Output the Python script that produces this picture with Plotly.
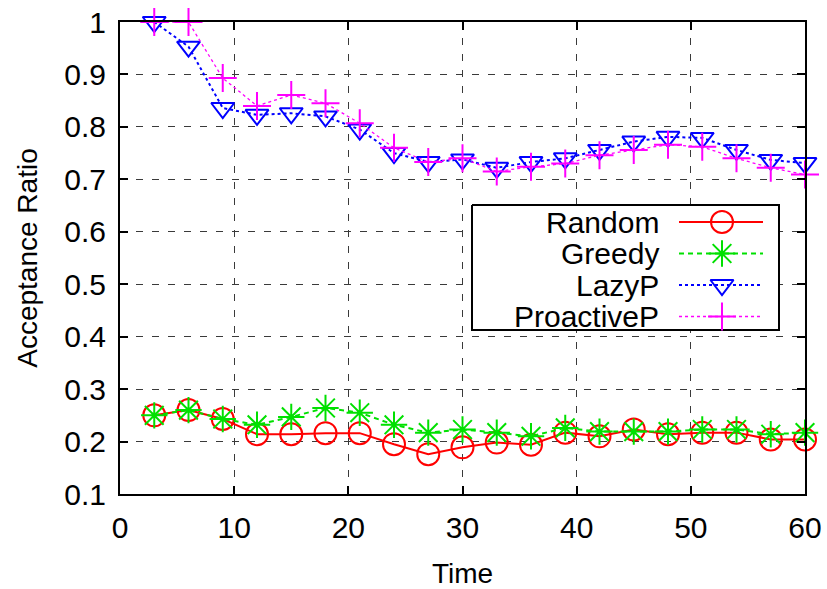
import plotly.graph_objects as go

time = [3, 6, 9, 12, 15, 18, 21, 24, 27, 30, 33, 36, 39, 42, 45, 48, 51, 54, 57, 60]
random_ratio = [0.25, 0.26, 0.243, 0.214, 0.214, 0.216, 0.216, 0.195, 0.176, 0.189,
                0.198, 0.194, 0.217, 0.21, 0.223, 0.214, 0.217, 0.217, 0.204, 0.204]
greedy_ratio = [0.25, 0.26, 0.243, 0.232, 0.247, 0.264, 0.255, 0.232, 0.217, 0.223,
                0.217, 0.21, 0.226, 0.219, 0.219, 0.219, 0.223, 0.223, 0.214, 0.217]
lazyp_ratio = [1.0, 0.953, 0.836, 0.823, 0.826, 0.82, 0.795, 0.75, 0.733, 0.738,
               0.722, 0.733, 0.74, 0.756, 0.772, 0.781, 0.779, 0.756, 0.737, 0.731]
proactivep_ratio = [1.0, 1.0, 0.893, 0.84, 0.861, 0.845, 0.807, 0.76, 0.733, 0.74,
                    0.715, 0.724, 0.73, 0.746, 0.756, 0.766, 0.762, 0.74, 0.722, 0.709]

series_names = ["Random", "Greedy", "LazyP", "ProactiveP"]
x_ticks = [0, 10, 20, 30, 40, 50, 60]
y_ticks = [0.1, 0.2, 0.3, 0.4, 0.5, 0.6, 0.7, 0.8, 0.9, 1]
y_tick_text = ["0.1", "0.2", "0.3", "0.4", "0.5", "0.6", "0.7", "0.8", "0.9", "1"]

FONT = "Liberation Sans, Arial, sans-serif"
FS = 30

styles = [
    dict(color="#ff0000", dash="solid", symbol="circle-open", size=22, lw=2),
    dict(color="#00e000", dash="5px,4px", symbol="asterisk-open", size=22, lw=2),
    dict(color="#0000ff", dash="dot", symbol="triangle-down-open", size=20, lw=2),
    dict(color="#ff00ff", dash="dot", symbol="cross-thin-open", size=20, lw=1.3),
]
values = [random_ratio, greedy_ratio, lazyp_ratio, proactivep_ratio]

fig = go.Figure()
for name, vals, st in zip(series_names, values, styles):
    fig.add_trace(go.Scatter(
        x=time, y=vals, name=name, mode="lines+markers",
        line=dict(color=st["color"], dash=st["dash"], width=st["lw"]),
        marker=dict(symbol=st["symbol"], size=st["size"], color=st["color"],
                    line=dict(color=st["color"], width=2)),
        cliponaxis=False, showlegend=False,
    ))

# custom gnuplot-style legend (text left, sample right) in a pixel-like overlay axis
W, H = 685, 472
box_x = [352, 659, 659, 352, 352]
box_y = [183, 183, 308, 308, 183]
fig.add_trace(go.Scatter(
    x=box_x, y=box_y, mode="lines", fill="toself", fillcolor="white",
    line=dict(color="black", width=2), xaxis="x2", yaxis="y2",
    showlegend=False, hoverinfo="skip", cliponaxis=False))

row_y = [200, 231.5, 263, 294.5]
for i, (name, st) in enumerate(zip(series_names, styles)):
    fig.add_trace(go.Scatter(
        x=[559, 643], y=[row_y[i], row_y[i]], mode="lines",
        line=dict(color=st["color"], dash=st["dash"], width=st["lw"]),
        xaxis="x2", yaxis="y2", showlegend=False, hoverinfo="skip", cliponaxis=False))
    fig.add_trace(go.Scatter(
        x=[602], y=[row_y[i]], mode="markers",
        marker=dict(symbol=st["symbol"], size=st["size"], color=st["color"],
                    line=dict(color=st["color"], width=2)),
        xaxis="x2", yaxis="y2", showlegend=False, hoverinfo="skip", cliponaxis=False))
    fig.add_annotation(x=541, y=row_y[i], xref="x2", yref="y2", text=name,
                       showarrow=False, xanchor="right", yanchor="middle",
                       font=dict(family=FONT, size=FS, color="black"))

axis_common = dict(
    showline=True, linecolor="black", linewidth=2, mirror="ticks",
    ticks="inside", ticklen=8, tickwidth=1.5, tickcolor="black",
    showgrid=True, gridcolor="#3a3a3a", gridwidth=1.3, griddash="7px,9px",
    zeroline=False, tickfont=dict(family=FONT, size=FS, color="black"),
    ticklabelstandoff=6, automargin=False,
)

fig.update_layout(
    width=827, height=589,
    margin=dict(l=120, r=22, t=22, b=95),
    plot_bgcolor="white", paper_bgcolor="white",
    font=dict(family=FONT, size=FS, color="black"),
    xaxis=dict(range=[0, 60], tickvals=x_ticks, ticktext=[str(t) for t in x_ticks],
               title=dict(text="Time", font=dict(family=FONT, size=28), standoff=20),
               **axis_common),
    yaxis=dict(range=[0.1, 1], tickvals=y_ticks, ticktext=y_tick_text,
               title=dict(text="Acceptance Ratio", font=dict(family=FONT, size=28), standoff=18),
               **axis_common),
    xaxis2=dict(range=[0, W], overlaying="x", visible=False, domain=[0, 1]),
    yaxis2=dict(range=[H, 0], overlaying="y", visible=False, domain=[0, 1]),
)

fig.write_html("out.html")
